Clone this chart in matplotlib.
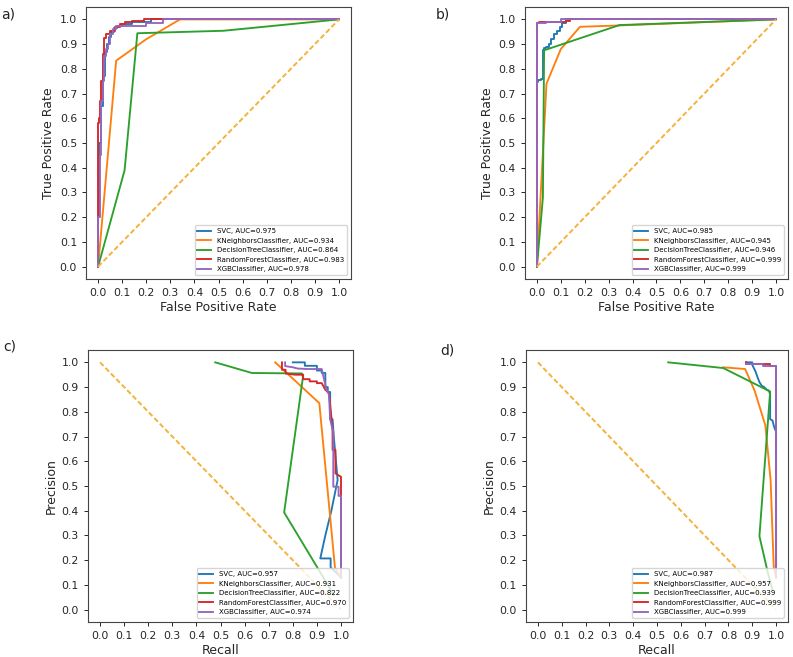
import numpy as np
import matplotlib
matplotlib.use("Agg")
import matplotlib.pyplot as plt

models = ["SVC", "KNeighborsClassifier", "DecisionTreeClassifier",
          "RandomForestClassifier", "XGBClassifier"]
colors = ["tab:blue", "tab:orange", "tab:green", "tab:red", "tab:purple"]

auc_a = [0.975, 0.934, 0.864, 0.983, 0.978]
auc_b = [0.985, 0.945, 0.946, 0.999, 0.999]
auc_c = [0.957, 0.931, 0.822, 0.970, 0.974]
auc_d = [0.987, 0.957, 0.939, 0.999, 0.999]

# a) ROC
svc_a_fpr = [0, 0, 0.005, 0.012, 0.02, 0.028, 0.035, 0.045, 0.055, 0.065, 0.08, 0.1, 0.14, 0.22, 0.24, 1.0]
svc_a_tpr = [0, 0.15, 0.2, 0.5, 0.65, 0.77, 0.87, 0.9, 0.93, 0.95, 0.965, 0.975, 0.98, 0.99, 1.0, 1.0]
knn_a_fpr = [0, 0.075, 0.2, 0.34, 1.0]
knn_a_tpr = [0, 0.833, 0.92, 1.0, 1.0]
dt_a_fpr = [0, 0.11, 0.163, 0.52, 1.0]
dt_a_tpr = [0, 0.39, 0.944, 0.954, 1.0]
rf_a_fpr = [0, 0, 0.004, 0.008, 0.013, 0.02, 0.026, 0.033, 0.05, 0.07, 0.09, 0.11, 0.14, 0.19, 0.26, 1.0]
rf_a_tpr = [0, 0.46, 0.58, 0.6, 0.67, 0.75, 0.86, 0.925, 0.94, 0.955, 0.97, 0.98, 0.99, 0.995, 1.0, 1.0]
xgb_a_fpr = [0, 0, 0.008, 0.014, 0.02, 0.026, 0.032, 0.04, 0.05, 0.062, 0.075, 0.12, 0.2, 0.27, 1.0]
xgb_a_tpr = [0, 0.15, 0.2, 0.45, 0.67, 0.75, 0.85, 0.88, 0.9, 0.94, 0.96, 0.975, 0.975, 0.985, 1.0]

# b) ROC
svc_b_fpr = [0, 0, 0.005, 0.015, 0.025, 0.03, 0.04, 0.05, 0.06, 0.07, 0.085, 0.095, 0.105, 0.12, 0.13, 1.0]
svc_b_tpr = [0, 0.73, 0.745, 0.755, 0.76, 0.875, 0.885, 0.89, 0.9, 0.92, 0.94, 0.955, 0.97, 0.985, 1.0, 1.0]
knn_b_fpr = [0, 0.04, 0.1, 0.18, 0.33, 1.0]
knn_b_tpr = [0, 0.74, 0.88, 0.97, 0.975, 1.0]
dt_b_fpr = [0, 0.025, 0.03, 0.345, 1.0]
dt_b_tpr = [0, 0.28, 0.875, 0.977, 1.0]
rf_b_fpr = [0, 0, 0.01, 0.05, 0.12, 0.14, 1.0]
rf_b_tpr = [0, 0.984, 0.984, 0.99, 0.99, 0.995, 1.0]
xgb_b_fpr = [0, 0, 0.04, 0.1, 1.0]
xgb_b_tpr = [0, 0.984, 0.984, 0.99, 1.0]

# c) precision-recall
svc_c_rec = [0.80, 0.85, 0.85, 0.90, 0.90, 0.92, 0.92, 0.935, 0.935, 0.945, 0.945, 0.955, 0.955, 0.965, 0.97, 0.986, 0.96, 0.935, 0.914, 0.957, 0.957, 0.98, 1.0]
svc_c_prec = [1.0, 1.0, 0.986, 0.986, 0.967, 0.967, 0.957, 0.957, 0.90, 0.90, 0.88, 0.88, 0.77, 0.77, 0.70, 0.524, 0.40, 0.30, 0.207, 0.207, 0.17, 0.15, 0.13]
knn_c_rec = [0.727, 0.91, 0.975, 1.0]
knn_c_prec = [1.0, 0.835, 0.17, 0.13]
dt_c_rec = [0.478, 0.63, 0.838, 0.842, 0.764, 0.97]
dt_c_prec = [1.0, 0.957, 0.955, 0.94, 0.393, 0.06]
rf_c_rec = [0.755, 0.755, 0.77, 0.77, 0.81, 0.843, 0.843, 0.87, 0.87, 0.9, 0.9, 0.92, 0.935, 0.95, 0.955, 0.96, 0.965, 0.965, 0.977, 0.977, 1.0, 1.0, 1.0]
rf_c_prec = [1.0, 0.97, 0.97, 0.955, 0.95, 0.95, 0.932, 0.932, 0.923, 0.923, 0.916, 0.916, 0.889, 0.876, 0.83, 0.78, 0.72, 0.646, 0.646, 0.551, 0.537, 0.46, 0.13]
xgb_c_rec = [0.768, 0.768, 0.80, 0.82, 0.86, 0.92, 0.93, 0.94, 0.95, 0.955, 0.962, 0.968, 0.968, 0.99, 0.99, 1.0, 1.0]
xgb_c_prec = [1.0, 0.985, 0.98, 0.975, 0.973, 0.973, 0.93, 0.89, 0.87, 0.77, 0.74, 0.72, 0.497, 0.497, 0.46, 0.46, 0.13]

# d) precision-recall
svc_d_rec = [0.88, 0.90, 0.90, 0.91, 0.915, 0.92, 0.93, 0.94, 0.95, 0.96, 0.97, 0.975, 0.975, 0.985, 0.99, 0.995, 1.0, 1.0]
svc_d_prec = [1.0, 1.0, 0.99, 0.97, 0.96, 0.945, 0.92, 0.905, 0.9, 0.89, 0.885, 0.87, 0.77, 0.765, 0.745, 0.73, 0.72, 0.13]
knn_d_rec = [0.778, 0.87, 0.91, 0.955, 0.977, 0.99, 1.0]
knn_d_prec = [0.98, 0.973, 0.885, 0.745, 0.524, 0.173, 0.13]
dt_d_rec = [0.547, 0.778, 0.975, 0.93, 0.966, 0.985]
dt_d_prec = [1.0, 0.977, 0.882, 0.297, 0.146, 0.08]
rf_d_rec = [0.875, 0.875, 0.975, 0.975, 1.0, 1.0]
rf_d_prec = [1.0, 0.995, 0.995, 0.985, 0.985, 0.13]
xgb_d_rec = [0.875, 0.945, 0.945, 1.0, 1.0]
xgb_d_prec = [0.995, 0.995, 0.985, 0.985, 0.13]

diag_x = [0, 1]
roc_diag_y = [0, 1]
pr_diag_y = [1, 0]

ticks = np.arange(0, 1.01, 0.1)


def plot_panel(ax, curves, aucs, steps, diag_y, xlabel, ylabel):
    for (x, y), auc, name, c, st in zip(curves, aucs, models, colors, steps):
        ax.plot(x, y, color=c, lw=1.35, drawstyle="steps-pre" if st else "default",
                label="%s, AUC=%.3f" % (name, auc))
    ax.plot(diag_x, diag_y, color="#f5b13a", lw=1.4, dashes=(2.6, 1.4))
    ax.set_xlim(-0.05, 1.05)
    ax.set_ylim(-0.05, 1.05)
    ax.set_xticks(ticks)
    ax.set_yticks(ticks)
    ax.set_xticklabels(["%.1f" % t for t in ticks])
    ax.set_yticklabels(["%.1f" % t for t in ticks])
    ax.tick_params(labelsize=7.8, length=3, width=0.7, colors="#262626")
    ax.set_xlabel(xlabel, fontsize=9, color="#262626", labelpad=2)
    ax.set_ylabel(ylabel, fontsize=9, color="#262626", labelpad=3)
    for s in ax.spines.values():
        s.set_color("#444444")
        s.set_linewidth(0.8)
    ax.legend(loc="lower right", fontsize=5, handlelength=2, borderaxespad=0.6)


fig = plt.figure(figsize=(7.93, 6.57), dpi=100)
ax_a = fig.add_axes([0.1085, 0.5753, 0.3342, 0.414])
ax_b = fig.add_axes([0.662, 0.5753, 0.3317, 0.414])
ax_c = fig.add_axes([0.111, 0.0533, 0.3342, 0.414])
ax_d = fig.add_axes([0.6633, 0.0533, 0.3304, 0.414])

roc_steps = [True, False, False, True, True]
pr_steps = [False] * 5

plot_panel(ax_a, [(svc_a_fpr, svc_a_tpr), (knn_a_fpr, knn_a_tpr), (dt_a_fpr, dt_a_tpr),
                  (rf_a_fpr, rf_a_tpr), (xgb_a_fpr, xgb_a_tpr)],
           auc_a, roc_steps, roc_diag_y, "False Positive Rate", "True Positive Rate")
plot_panel(ax_b, [(svc_b_fpr, svc_b_tpr), (knn_b_fpr, knn_b_tpr), (dt_b_fpr, dt_b_tpr),
                  (rf_b_fpr, rf_b_tpr), (xgb_b_fpr, xgb_b_tpr)],
           auc_b, roc_steps, roc_diag_y, "False Positive Rate", "True Positive Rate")
plot_panel(ax_c, [(svc_c_rec, svc_c_prec), (knn_c_rec, knn_c_prec), (dt_c_rec, dt_c_prec),
                  (rf_c_rec, rf_c_prec), (xgb_c_rec, xgb_c_prec)],
           auc_c, pr_steps, pr_diag_y, "Recall", "Precision")
plot_panel(ax_d, [(svc_d_rec, svc_d_prec), (knn_d_rec, knn_d_prec), (dt_d_rec, dt_d_prec),
                  (rf_d_rec, rf_d_prec), (xgb_d_rec, xgb_d_prec)],
           auc_d, pr_steps, pr_diag_y, "Recall", "Precision")

fig.text(0.001, 1 - 15 / 657, "a)", fontsize=10, va="center", color="#222222")
fig.text(436 / 793, 1 - 15 / 657, "b)", fontsize=10, va="center", color="#222222")
fig.text(0.004, 1 - 346 / 657, "c)", fontsize=10, va="center", color="#222222")
fig.text(440 / 793, 1 - 350 / 657, "d)", fontsize=10, va="center", color="#222222")

fig.savefig("out.png", dpi=100)
